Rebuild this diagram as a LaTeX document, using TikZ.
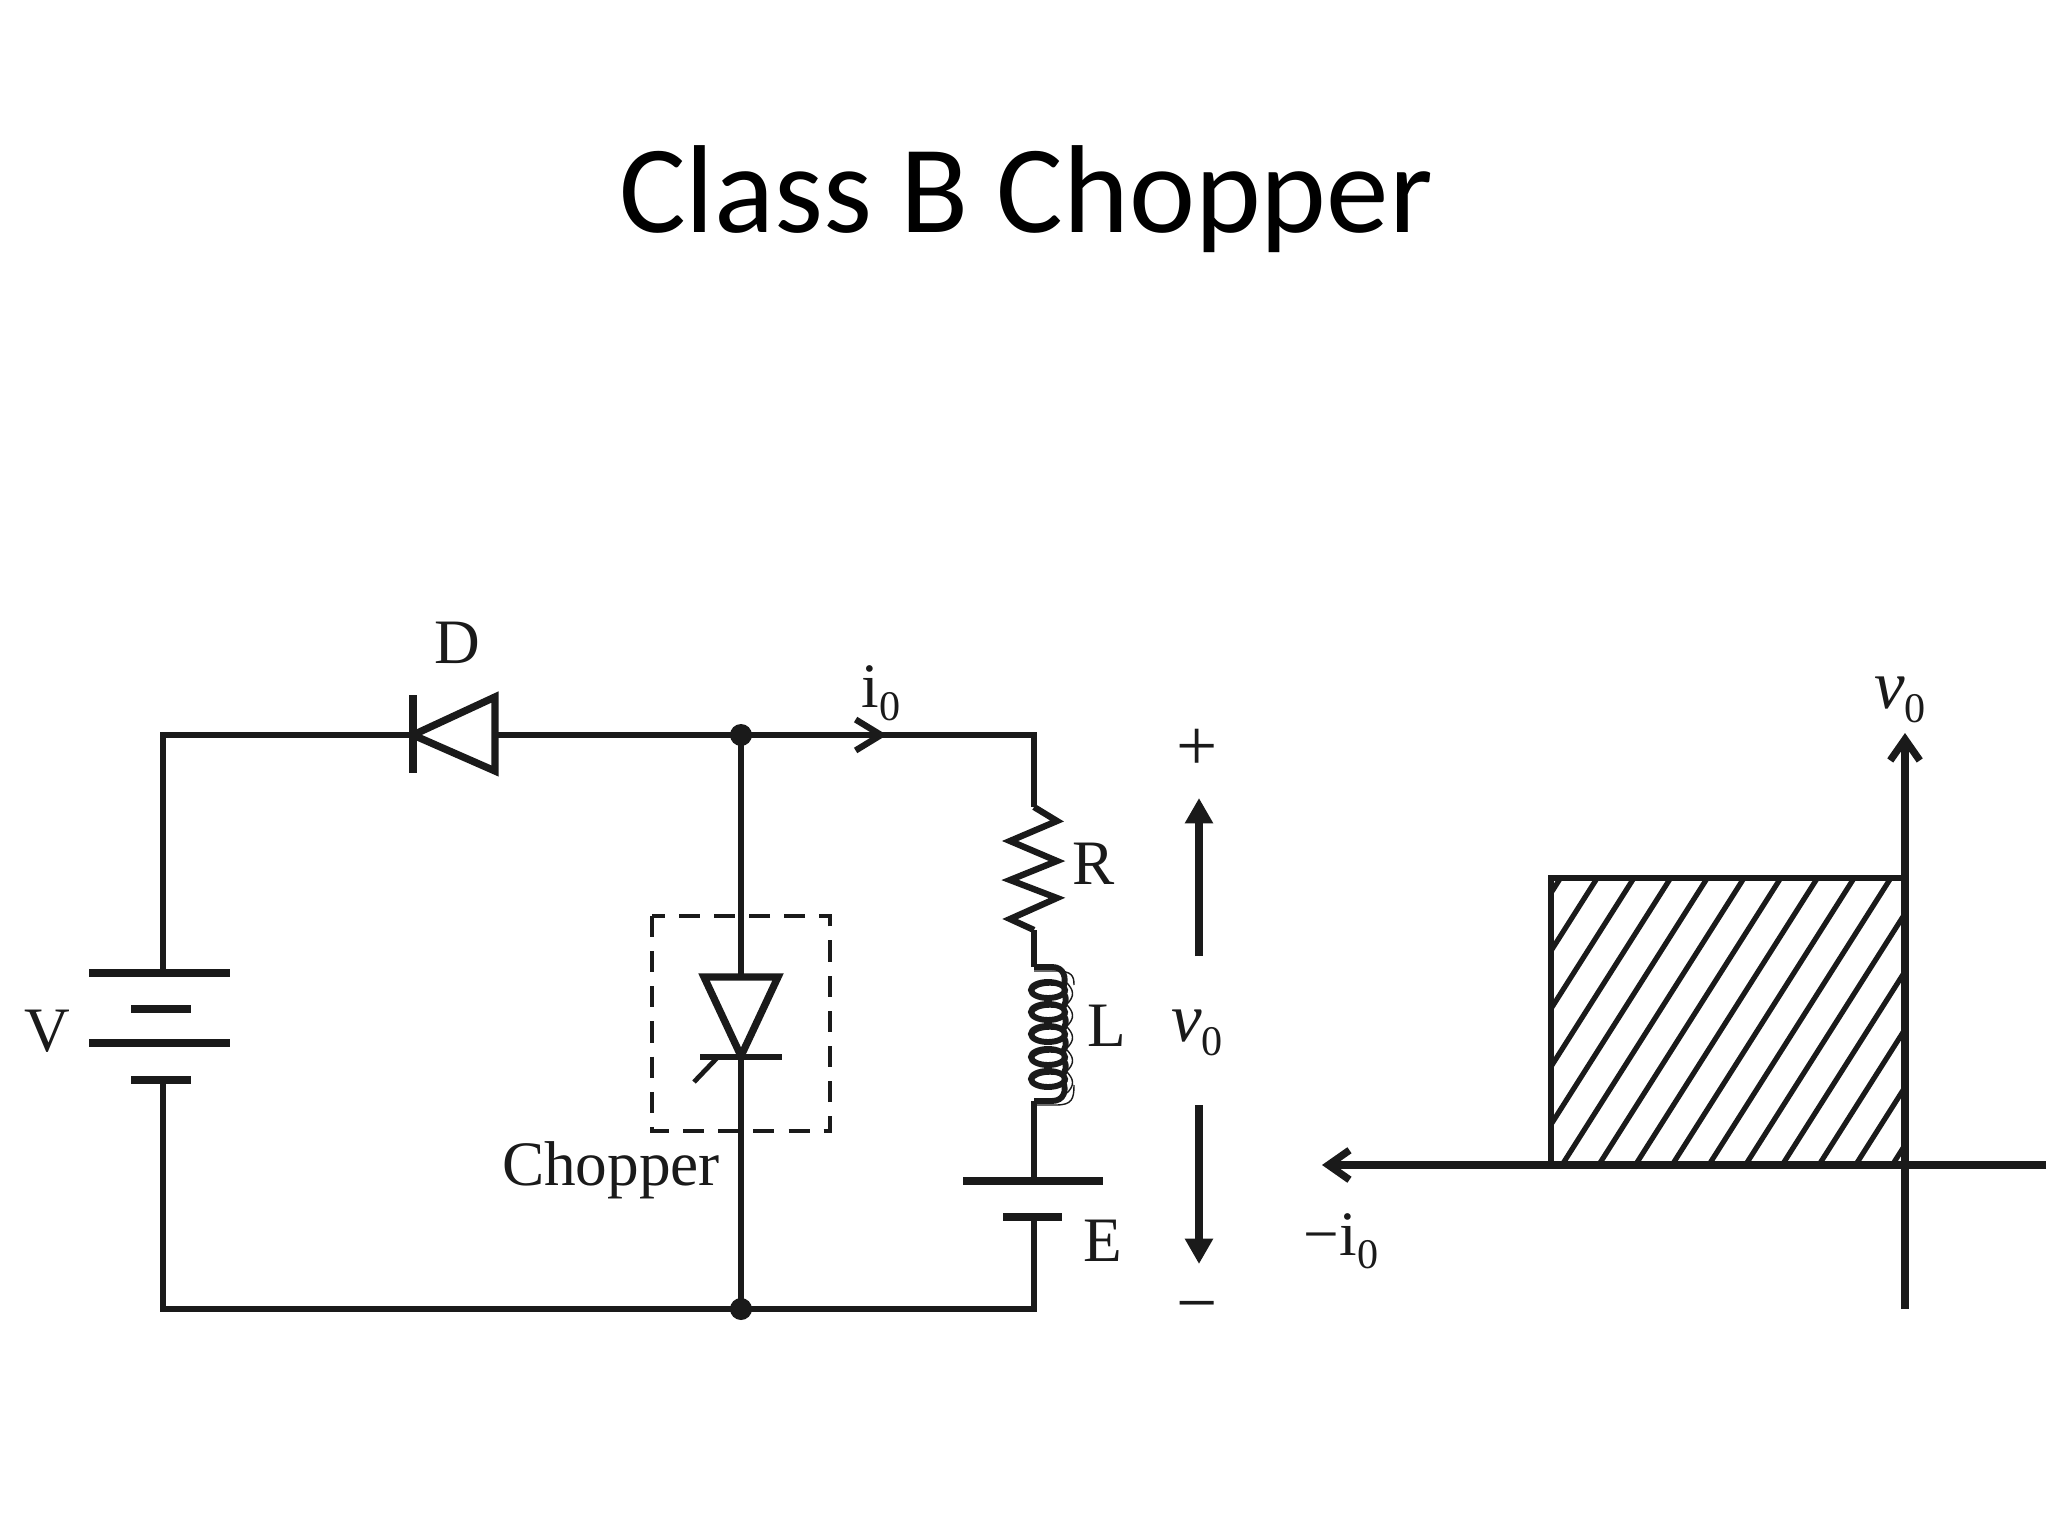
\documentclass[tikz,border=0pt]{standalone}
\usepackage{fontspec}
\setmainfont{Liberation Serif}
\newfontfamily\titlefont{Carlito}
\usetikzlibrary{arrows.meta, positioning}
\definecolor{ink}{HTML}{1A1A1A}
\tikzset{
    wire/.style={draw=ink, line width=4.5pt},
    plate/.style={draw=ink, line width=5.2pt},
    axis/.style={draw=ink, line width=5.2pt},
    hatchline/.style={draw=ink, line width=3.7pt},
    coil/.style={draw=ink, line width=4.2pt},
    coilthin/.style={draw=ink, line width=1pt},
    lbl/.style={text=ink, inner sep=0pt, font=\fontsize{45}{50}\selectfont},
    sublbl/.style={text=ink, inner sep=0pt, font=\fontsize{49}{54}\selectfont},
    barb/.style={-{Straight Barb[length=18pt, width=22pt, line width=4.5pt]}},
    axisbarb/.style={-{Straight Barb[length=15pt, width=21pt, line width=5.2pt]}},
    bigtip/.style={-{Triangle[length=18pt, width=19pt]}, draw=ink, fill=ink, line width=5.6pt}
}
\newcommand{\subzero}{\raisebox{-0.2em}{\fontsize{30}{30}\selectfont 0}}

\begin{document}
\begin{tikzpicture}[x=0.025cm, y=-0.025cm]
    \useasboundingbox (0, 0) rectangle (2048, 1536);
    \node[inner sep=0pt, font=\titlefont\fontsize{89}{96}\selectfont] (title) at (1026, 199) {Class B Chopper};

    % circuit corners
    \coordinate (topleft) at (163, 735);
    \coordinate (botleft) at (163, 1309);
    \coordinate (topright) at (1034, 735);
    \coordinate (botright) at (1034, 1309);
    \coordinate (jtop) at (741, 735);
    \coordinate (jbot) at (741, 1309);
    \coordinate (itip) at (887, 735);

    % source V
    \coordinate (vplus) at (163, 973);
    \coordinate (vminus) at (163, 1080);
    \draw[plate]
    (89, 973) -- (230, 973)
    (131, 1009) -- (191, 1009)
    (89, 1043) -- (230, 1043)
    (131, 1080) -- (191, 1080);

    % diode D
    \coordinate (dbar) at (413, 735);
    \coordinate (dback) at (495, 735);
    \draw[plate] (413, 695) -- (413, 773);
    \draw[wire, line width=5.2pt, miter limit=10] (dbar) -- (495, 697) -- (495, 771) -- cycle;

    % chopper
    \coordinate (thtop) at (741, 977);
    \coordinate (thapex) at (741, 1056);
    \draw[wire, line width=5.2pt, miter limit=10] (thtop) -- (704, 977) -- (thapex) -- (778, 977) -- cycle;
    \draw[wire, line width=3.6pt] (700, 1057) -- (782, 1057);
    \draw[wire, line width=3.4pt] (717, 1058) -- (694, 1082);
    \draw[wire, line width=3.1pt, dash pattern=on 15pt off 10pt] (652, 916) rectangle (830, 1131);

    % R L E branch
    \coordinate (rtop) at (1034, 807);
    \coordinate (rbot) at (1034, 930);
    \coordinate (ltop) at (1034, 967);
    \coordinate (lbot) at (1034, 1101);
    \coordinate (etop) at (1034, 1181);
    \coordinate (ebot) at (1034, 1217);
    \draw[wire, line join=miter]
    (rtop) -- (1057, 821) -- (1010, 841) -- (1057, 861) -- (1010, 880) -- (1057, 898) -- (1010, 919) -- (rbot);
    \draw[plate]
    (963, 1181) -- (1103, 1181)
    (1003, 1217) -- (1062, 1217);

    \foreach \y in {990, 1012, 1034, 1057, 1079} {
        \draw[coil] (1048, \y) ellipse (17 and 8);
        \draw[coilthin] (1050, \y + 2) ellipse (17 and 7);
        \draw[coilthin] (1066, \y - 8) .. controls (1074, \y) and (1075, \y + 6) .. (1067, \y + 14);
    }
    \foreach \y in {990, 1012, 1034, 1057} {
        \draw[coil] (1063, \y + 3) .. controls (1068, \y + 8) and (1066, \y + 14) .. (1061, \y + 20);
    }
    \draw[coil] (ltop) -- (1052, 967) .. controls (1064, 967) and (1067, 978) .. (1063, 988);
    \draw[coil] (lbot) -- (1052, 1101) .. controls (1064, 1101) and (1067, 1090) .. (1063, 1082);
    \draw[coilthin] (1034, 971) -- (1056, 971) .. controls (1072, 971) and (1074, 976) .. (1074, 985);
    \draw[coilthin] (1034, 1105) -- (1056, 1105) .. controls (1072, 1105) and (1074, 1099) .. (1074, 1085);

    % wires
    \draw[wire, line join=miter]
    (vplus) -- (topleft) -- (dbar)
    (dback) -- (jtop) -- (itip) -- (topright) -- (rtop)
    (rbot) -- (ltop)
    (lbot) -- (etop)
    (ebot) -- (botright) -- (botleft) -- (vminus)
    (jtop) -- (thtop)
    (thapex) -- (jbot);
    \draw[wire, barb] (jtop) -- (itip);
    \fill[ink] (jtop) ellipse (11 and 11);
    \fill[ink] (jbot) ellipse (11 and 11);

    % output voltage arrows
    \coordinate (upbase) at (1199, 956);
    \coordinate (uptip) at (1199, 798);
    \coordinate (downbase) at (1199, 1105);
    \coordinate (downtip) at (1199, 1264);
    \draw[bigtip] (upbase) -- (uptip);
    \draw[bigtip] (downbase) -- (downtip);

    % labels
    \node[lbl] (labD) at (457, 643) {D};
    \node[lbl] (labV) at (47, 1031) {V};
    \node[lbl] (labio) at (881, 693) {i\subzero};
    \node[lbl] (labChopper) at (611, 1170) {Chopper};
    \node[lbl] (labR) at (1094, 864) {R};
    \node[lbl] (labL) at (1107, 1026) {L};
    \node[lbl] (labE) at (1103, 1241) {E};
    \node[lbl, font=\fontsize{52}{56}\selectfont] (labplus) at (1197, 750) {+};
    \node[lbl, font=\fontsize{52}{56}\selectfont] (labminus) at (1197, 1314) {−};
    \node[sublbl] (labvo) at (1197, 1033) {\textit{v}\subzero};
    \node[sublbl] (labvotop) at (1900, 700) {\textit{v}\subzero};
    \node[lbl] (labmio) at (1341, 1241) {−i\subzero};

    % operating region
    \coordinate (regtl) at (1551, 878);
    \coordinate (regbr) at (1905, 1165);
    \coordinate (regbl) at (1551, 1165);
    \begin{scope}
        \clip (regtl) rectangle (regbr);
        \foreach \x in {-5, ..., 9} {
            \draw[hatchline] (1562 + 36.7 * \x, 1165) -- (1744 + 36.7 * \x, 878);
        }
    \end{scope}
    \draw[wire] (regbl) -- (regtl) -- (1905, 878);

    % axes
    \coordinate (vtip) at (1905, 733);
    \coordinate (vend) at (1905, 1309);
    \coordinate (itipleft) at (1322, 1165);
    \coordinate (iend) at (2046, 1165);
    \draw[axis, axisbarb] (vend) -- (vtip);
    \draw[axis, axisbarb] (iend) -- (itipleft);
\end{tikzpicture}
\end{document}
